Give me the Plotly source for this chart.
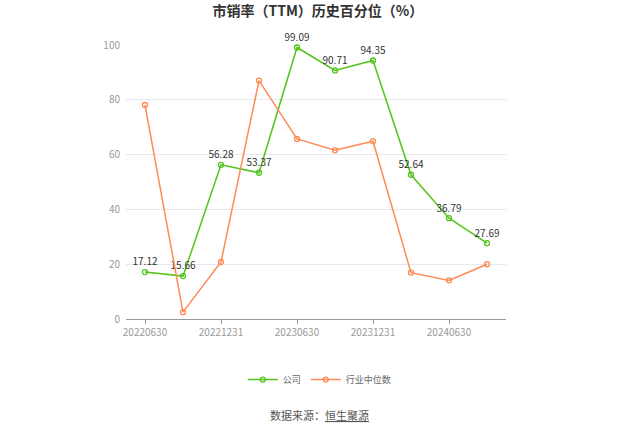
import plotly.graph_objects as go

categories = ["20220630", "20220930", "20221231", "20230331", "20230630",
              "20230930", "20231231", "20240331", "20240630", "20240930"]
company = [17.12, 15.66, 56.28, 53.37, 99.09, 90.71, 94.35, 52.64, 36.79, 27.69]
industry = [78.1, 2.5, 20.8, 87.0, 65.7, 61.6, 64.9, 16.9, 14.1, 20.0]
tick_labels = ["20220630", "20221231", "20230630", "20231231", "20240630"]
y_ticks = [0, 20, 40, 60, 80, 100]

GREEN = "#52c41a"
ORANGE = "#ff8a56"
FONT = "Noto Sans CJK SC"

fig = go.Figure()
fig.add_trace(go.Scatter(
    x=categories, y=company, name="公司", mode="lines+markers+text",
    line=dict(color=GREEN, width=1.5),
    marker=dict(symbol="circle-open", size=5, color=GREEN, line=dict(width=1.3)),
    text=[f"{v:.2f}" for v in company], textposition="top center",
    textfont=dict(size=10, color="#333333", family=FONT),
    cliponaxis=False,
))
fig.add_trace(go.Scatter(
    x=categories, y=industry, name="行业中位数", mode="lines+markers",
    line=dict(color=ORANGE, width=1.5),
    marker=dict(symbol="circle-open", size=5, color=ORANGE, line=dict(width=1.3)),
    cliponaxis=False,
))

fig.update_layout(
    width=637, height=431,
    margin=dict(l=126, r=131, t=45, b=112, autoexpand=False),
    paper_bgcolor="white", plot_bgcolor="white",
    font=dict(family=FONT, color="#999999", size=10),
    title=dict(text="<b>市销率（TTM）历史百分位（%）</b>", x=0.499, xanchor="center",
               xref="container", y=1 - 11 / 431, yanchor="middle",
               font=dict(size=14, color="#333333", family=FONT)),
    showlegend=True,
    legend=dict(orientation="h", x=0.51, xanchor="center", y=-0.221, yanchor="middle",
                font=dict(size=9, color="#666666", family=FONT),
                itemwidth=30),
    xaxis=dict(
        type="category", categoryorder="array", categoryarray=categories,
        range=[-0.5, len(categories) - 0.5],
        tickmode="array", tickvals=tick_labels, ticktext=tick_labels,
        ticks="outside", ticklen=4, tickcolor="#999999",
        showline=True, linecolor="#999999", linewidth=1,
        showgrid=False, zeroline=False,
        tickfont=dict(size=10, color="#999999", family=FONT),
    ),
    yaxis=dict(
        range=[0, 100], tickvals=y_ticks,
        showgrid=True, gridcolor="#e6e8f0", gridwidth=1,
        zeroline=False, showline=False,
        tickfont=dict(size=10, color="#999999", family=FONT),
        ticklabelstandoff=5,
    ),
)

fig.add_annotation(
    text="数据来源：<span style='text-decoration:underline'>恒生聚源</span>",
    xref="paper", yref="paper", x=0.51, y=-0.349, xanchor="center", yanchor="middle",
    showarrow=False, font=dict(size=11, color="#555555", family=FONT),
)

fig.write_html("out.html", config={"displayModeBar": False},
               post_script="document.body.style.margin='0';")
